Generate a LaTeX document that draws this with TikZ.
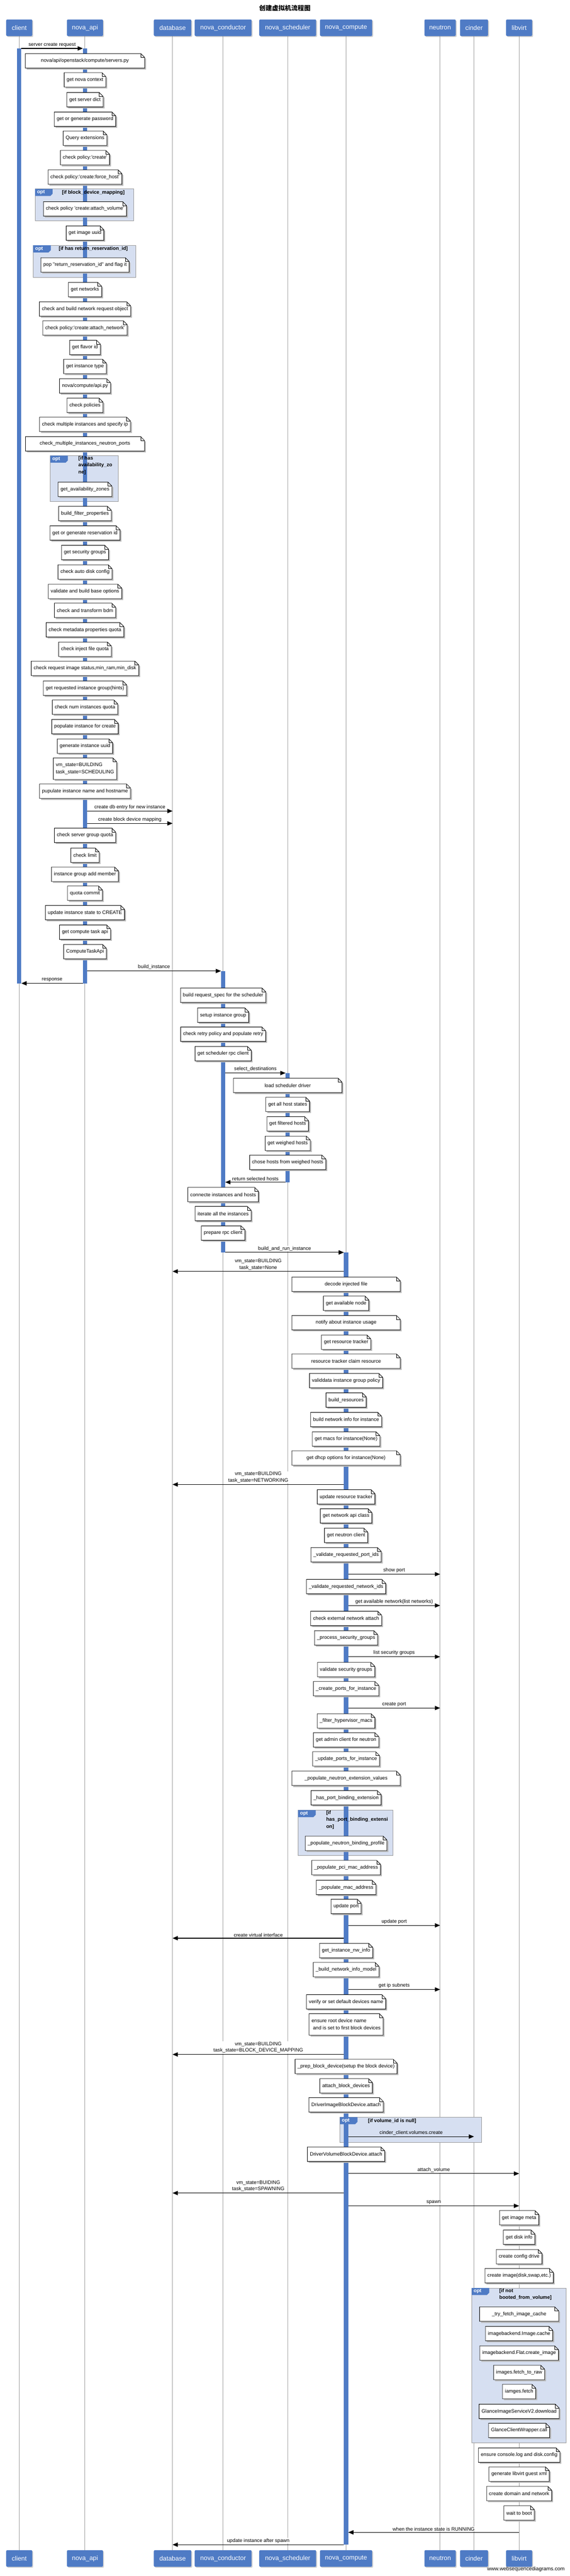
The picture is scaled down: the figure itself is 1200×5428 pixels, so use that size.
\documentclass[tikz,border=0pt]{standalone}
\usepackage{fontspec}
\setmainfont{Liberation Sans}[Ligatures=TeXOff]
\newfontfamily\cjk{Noto Sans CJK SC}
\usetikzlibrary{arrows.meta,shadows,calc}
\definecolor{pblue}{RGB}{79,123,197}
\definecolor{optfill}{RGB}{214,223,241}
\definecolor{lifec}{RGB}{160,160,160}
\pgfdeclarelayer{bg}\pgfdeclarelayer{grp}\pgfdeclarelayer{bar}\pgfdeclarelayer{notebg}
\pgfsetlayers{bg,grp,bar,notebg,main}
\newcounter{nc}\newcounter{mc}\newcounter{oc}
\tikzset{
 part/.style={rounded corners=2.5pt, fill=pblue, text=white, font=\fontsize{13.5pt}{16pt}\selectfont, minimum height=35pt, inner sep=0pt, drop shadow={shadow xshift=2pt, shadow yshift=-2pt, opacity=0.35}},
 notetxt/.style={anchor=north, inner xsep=5pt, inner ysep=0pt, minimum height=30pt, font=\fontsize{10.5pt}{15pt}\selectfont, align=center},
 msgline/.style={line width=1.2pt, -{Triangle[length=11pt,width=9pt]}},
 mlab/.style={font=\fontsize{10.5pt}{14pt}\selectfont, fill=white, inner sep=1pt, align=center, anchor=south, yshift=1.5pt},
 life/.style={draw=lifec, line width=1pt},
 optlab/.style={font=\bfseries\fontsize{10.5pt}{14.5pt}\selectfont, inner sep=0pt, align=left},
 actbar/.style={fill=pblue}
}
\newcommand{\nt}[4][]{%
 \stepcounter{nc}\edef\nn{note\arabic{nc}}%
 \node[notetxt,#1] (\nn) at (#2 |- 0,#3) {#4};
 \begin{pgfonlayer}{notebg}
  \fill[black!28] ($(\nn.north west)+(3pt,-3pt)$) -- ($(\nn.north east)+(-5pt,-3pt)$) -- ($(\nn.north east)+(3pt,-11pt)$) -- ($(\nn.south east)+(3pt,-3pt)$) -- ($(\nn.south west)+(3pt,-3pt)$) -- cycle;
  \filldraw[fill=white,draw=black,line width=0.9pt] (\nn.north west) -- ($(\nn.north east)+(-8pt,0pt)$) -- ($(\nn.north east)+(0pt,-8pt)$) -- (\nn.south east) -- (\nn.south west) -- cycle;
  \draw[line width=0.6pt] ($(\nn.north east)+(-8pt,0pt)$) |- ($(\nn.north east)+(0pt,-8pt)$);
 \end{pgfonlayer}}
\newcommand{\msg}[7][]{%
 \stepcounter{mc}\edef\mn{msg\arabic{mc}}%
 \draw[msgline] ($(#2 |- 0,#6)+(#3pt,0pt)$) -- node[mlab,#1] (\mn) {#7} ($(#4 |- 0,#6)+(#5pt,0pt)$);}
\newcommand{\optbox}[4]{%
 \stepcounter{oc}\edef\on{opt\arabic{oc}}%
 \begin{pgfonlayer}{grp}
  \draw[fill=optfill,draw=black!40,line width=0.9pt] (#1,#2) rectangle (#3,#4);
  \fill[pblue] (#1,#2) -- ++(37,0) -- ++(0,10) -- ++(-5,5) -- ++(-32,0) -- cycle;
 \end{pgfonlayer}
 \node[font=\bfseries\fontsize{10.5pt}{12pt}\selectfont,text=white,anchor=west,inner sep=0pt] (\on) at (#1+4,#2+7.5) {opt};}
\newcommand{\abar}[3]{%
 \begin{pgfonlayer}{bar}
  \fill[actbar] ($(#1 |- 0,#2)+(-4.5pt,0pt)$) rectangle ($(#1 |- 0,#3)+(4.5pt,0pt)$);
 \end{pgfonlayer}}
\begin{document}
\begin{tikzpicture}[x=1pt,y=-1pt]
\begin{pgfonlayer}{bg}
\fill[white] (0,0) rectangle (1200,5428);
\end{pgfonlayer}
\useasboundingbox (0,0) rectangle (1200,5428);
\node[font=\cjk\bfseries\fontsize{13.5pt}{16pt}\selectfont] (title) at (600,17) {创建虚拟机流程图};
% participants
\foreach \nm/\lab/\xx/\ww in {pc/client/40.5/55, pa/nova\_api/179/76, pd/database/363.5/79, pn/nova\_conductor/470/120, ps/nova\_scheduler/606/120, pm/nova\_compute/729/110, pq/neutron/927/66, pi/cinder/998.5/59, pl/libvirt/1093.5/55}{
 \node[part,minimum width=\ww pt] (\nm) at (\xx,58.5) {\lab};
 \node[part,minimum width=\ww pt] (\nm b) at (\xx,5391) {\lab};
 \begin{pgfonlayer}{bg}\draw[life] (\nm) -- (\nm b);\end{pgfonlayer}
}
\node[anchor=east,font=\fontsize{11pt}{13pt}\selectfont] (wm) at (1193,5414) {www.websequencediagrams.com};
% activation bars
\abar{pc}{102}{2072}
\abar{pa}{102}{2072}
\abar{pn}{2046}{2639}
\abar{ps}{2261}{2491}
\abar{pm}{2639}{5362}
% groups
\optbox{74}{398}{282}{465}
\node[optlab] (ol1) at (196.5,405.6) {[if block\_device\_mapping]};
\optbox{70}{517}{286}{584}
\node[optlab] (ol2) at (196.5,524.5) {[if has return\_reservation\_id]};
\optbox{106}{960}{249}{1057}
\node[optlab,anchor=north west] (ol3) at (165,961) {[if has\\availability\_zo\\ne]};
\optbox{628}{3814}{828}{3910}
\node[optlab,anchor=north west] (ol4) at (687,3815) {[if\\has\_port\_binding\_extensi\\on]};
\optbox{716}{4461}{1014}{4514}
\node[optlab] (ol5) at (826,4469) {[if volume\_id is null]};
\optbox{993.6}{4821}{1192}{5147}
\node[optlab,anchor=north west] (ol6) at (1051.6,4822) {[if not\\booted\_from\_volume]};
% messages
\msg{pc}{4.5}{pa}{-4.5}{102}{server create request}
\msg{pa}{4.5}{pd}{0}{1709}{create db entry for new instance}
\msg{pa}{4.5}{pd}{0}{1735}{create block device mapping}
\msg{pa}{4.5}{pn}{-4.5}{2046}{build\_instance}
\msg{pa}{-4.5}{pc}{4.5}{2072}{response}
\msg{pn}{4.5}{ps}{-4.5}{2261}{select\_destinations}
\msg{ps}{-4.5}{pn}{4.5}{2491}{return selected hosts}
\msg{pn}{4.5}{pm}{-4.5}{2639}{build\_and\_run\_instance}
\msg{pm}{-4.5}{pd}{0}{2679}{vm\_state=BUILDING\\task\_state=None}
\msg{pm}{-4.5}{pd}{0}{3128}{vm\_state=BUILDING\\task\_state=NETWORKING}
\msg{pm}{4.5}{pq}{0}{3317}{show port}
\msg{pm}{4.5}{pq}{0}{3383}{get available network(list networks)}
\msg{pm}{4.5}{pq}{0}{3491}{list security groups}
\msg{pm}{4.5}{pq}{0}{3599}{create port}
\msg{pm}{4.5}{pq}{0}{4057}{update port}
\msg{pm}{-4.5}{pd}{0}{4084}{create virtual interface}
\msg{pm}{4.5}{pq}{0}{4192}{get ip subnets}
\msg{pm}{-4.5}{pd}{0}{4329}{vm\_state=BUILDING\\task\_state=BLOCK\_DEVICE\_MAPPING}
\msg[fill=optfill]{pm}{4.5}{pi}{0}{4502}{cinder\_client.volumes.create}
\msg{pm}{4.5}{pl}{0}{4580}{attach\_volume}
\msg{pm}{-4.5}{pd}{0}{4621}{vm\_state=BUIDING\\task\_state=SPAWNING}
\msg{pm}{4.5}{pl}{0}{4648}{spawn}
\msg{pl}{0}{pm}{4.5}{5336}{when the instance state is RUNNING}
\msg{pm}{-4.5}{pd}{0}{5362}{update instance after spawn}
% notes nova_api
\nt[minimum width=251pt]{pa}{113}{nova/api/openstack/compute/servers.py}
\nt{pa}{153}{get nova context}
\nt{pa}{195}{get server dict}
\nt{pa}{236}{get or generate password}
\nt{pa}{276}{Query extensions}
\nt{pa}{317}{check policy:'create'}
\nt{pa}{358}{check policy:'create:force\_host'}
\nt{pa}{425}{check policy 'create:attach\_volume'}
\nt{pa}{476}{get image uuid}
\nt{pa}{543}{pop "return\_reservation\_id" and flag it}
\nt{pa}{595}{get networks}
\nt{pa}{636}{check and build network request object}
\nt{pa}{676}{check policy:'create:attach\_network'}
\nt{pa}{717}{get flavor id}
\nt{pa}{757}{get instance type}
\nt{pa}{798}{nova/compute/api.py}
\nt{pa}{839}{check policies}
\nt{pa}{879}{check multiple instances and specify ip}
\nt[minimum width=250pt]{pa}{920}{check\_multiple\_instances\_neutron\_ports}
\nt{pa}{1016}{get\_availability\_zones}
\nt{pa}{1067}{build\_filter\_properties}
\nt{pa}{1108}{get or generate reservation id}
\nt{pa}{1149}{get security groups}
\nt{pa}{1190}{check auto disk config}
\nt{pa}{1231}{validate and build base options}
\nt{pa}{1271}{check and transform bdm}
\nt{pa}{1312}{check metadata properties quota}
\nt{pa}{1353}{check inject file quota}
\nt{pa}{1393}{check request image status,min\_ram,min\_disk}
\nt{pa}{1435}{get requested instance group(hints)}
\nt{pa}{1475}{check num instances quota}
\nt{pa}{1516}{populate instance for create}
\nt{pa}{1557}{generate instance uuid}
\nt[align=left,minimum height=45pt]{pa}{1597}{vm\_state=BUILDING\\task\_state=SCHEDULING}
\nt{pa}{1652}{pupulate instance name and hostname}
\nt{pa}{1745}{check server group quota}
\nt{pa}{1787}{check limit}
\nt{pa}{1827}{instance group add member}
\nt{pa}{1867}{quota commit}
\nt{pa}{1908}{update instance state to CREATE}
\nt{pa}{1949}{get compute task api}
\nt{pa}{1990}{ComputeTaskApi}
% conductor / scheduler
\nt{pn}{2082}{build request\_spec for the scheduler}
\nt{pn}{2124}{setup instance group}
\nt{pn}{2164}{check retry policy and populate retry}
\nt{pn}{2205}{get scheduler rpc client}
\nt[minimum width=228pt]{ps}{2272}{load scheduler driver}
\nt{ps}{2312}{get all host states}
\nt{ps}{2353}{get filtered hosts}
\nt{ps}{2394}{get weighed hosts}
\nt{ps}{2434}{chose hosts from weighed hosts}
\nt{pn}{2502}{connecte instances and hosts}
\nt{pn}{2542}{iterate all the instances}
\nt{pn}{2583}{prepare rpc client}
% compute
\nt[minimum width=228pt]{pm}{2691}{decode injected file}
\nt{pm}{2731}{get available node}
\nt[minimum width=228pt]{pm}{2772}{notify about instance usage}
\nt{pm}{2813}{get resource tracker}
\nt[minimum width=228pt]{pm}{2853}{resource tracker claim resource}
\nt{pm}{2894}{validdata instance group policy}
\nt{pm}{2935}{build\_resources}
\nt{pm}{2976}{build network info for instance}
\nt{pm}{3017}{get macs for instance(None)}
\nt[minimum width=228pt]{pm}{3057}{get dhcp options for instance(None)}
\nt{pm}{3139}{update resource tracker}
\nt{pm}{3179}{get network api class}
\nt{pm}{3220}{get neutron client}
\nt{pm}{3261}{\_validate\_requested\_port\_ids}
\nt{pm}{3328}{\_validate\_requested\_network\_ids}
\nt{pm}{3395}{check external network attach}
\nt{pm}{3436}{\_process\_security\_groups}
\nt{pm}{3503}{validate security groups}
\nt{pm}{3543}{\_create\_ports\_for\_instance}
\nt{pm}{3611}{\_filter\_hypervisor\_macs}
\nt{pm}{3651}{get admin client for neutron}
\nt{pm}{3691}{\_update\_ports\_for\_instance}
\nt[minimum width=228pt]{pm}{3732}{\_populate\_neutron\_extension\_values}
\nt{pm}{3773}{\_has\_port\_binding\_extension}
\nt{pm}{3869}{\_populate\_neutron\_binding\_profile}
\nt{pm}{3920}{\_populate\_pci\_mac\_address}
\nt{pm}{3962}{\_populate\_mac\_address}
\nt{pm}{4002}{update port}
\nt{pm}{4095}{get\_instance\_nw\_info}
\nt{pm}{4135}{\_build\_network\_info\_model}
\nt{pm}{4203}{verify or set default devices name}
\nt[align=left,minimum height=45pt]{pm}{4243}{ensure root device name\\\hspace*{3pt}and is set to first block devices}
\nt{pm}{4339}{\_prep\_block\_device(setup the block device)}
\nt{pm}{4380}{attach\_block\_devices}
\nt{pm}{4420}{DriverImageBlockDevice.attach}
\nt{pm}{4524}{DriverVolumeBlockDevice.attach}
% libvirt
\nt{pl}{4658}{get image meta}
\nt{pl}{4699}{get disk info}
\nt{pl}{4740}{create config drive}
\nt{pl}{4780}{create image(disk,swap,etc.)}
\nt[minimum width=166pt]{pl}{4861}{\_try\_fetch\_image\_cache}
\nt{pl}{4902}{imagebackend.Image.cache}
\nt{pl}{4943}{imagebackend.Flat.create\_image}
\nt{pl}{4984}{images.fetch\_to\_raw}
\nt{pl}{5024}{iamges.fetch}
\nt{pl}{5066}{GlanceImageServiceV2.download}
\nt{pl}{5106}{GlanceClientWrapper.call}
\nt{pl}{5158}{ensure console.log and disk.config}
\nt{pl}{5198}{generate libvirt guest xml}
\nt{pl}{5239}{create domain and network}
\nt{pl}{5280}{wait to boot}
\end{tikzpicture}
\end{document}
